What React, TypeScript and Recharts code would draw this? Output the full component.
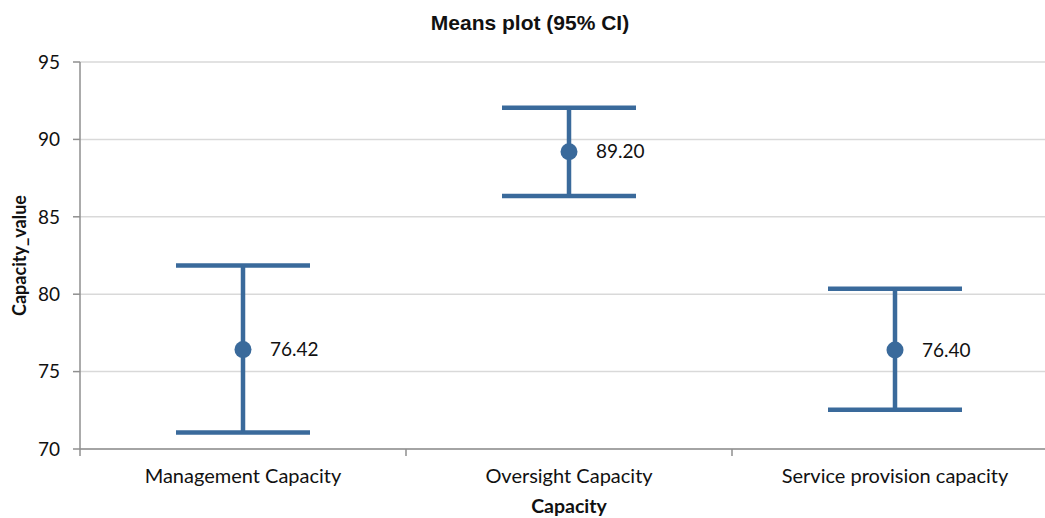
import { ComposedChart, Scatter, XAxis, YAxis, CartesianGrid, ErrorBar } from 'recharts';

const categories = ['Management Capacity', 'Oversight Capacity', 'Service provision capacity'];
const means = [76.42, 89.2, 76.4];
const lower = [71.07, 86.34, 72.54];
const upper = [81.86, 92.05, 80.36];
const yTicks = [70, 75, 80, 85, 90, 95];

const BLUE = '#3a6a9b';
const AXIS = '#8f8f8f';
const FONT = 'Lato, "Open Sans", sans-serif';

const data = categories.map((name, i) => ({
  name,
  mean: means[i],
  err: [means[i] - lower[i], upper[i] - means[i]],
}));

const MeanDot = (props: any) => {
  const { cx, cy, payload } = props;
  if (cx == null || cy == null) return null;
  return (
    <g>
      <circle cx={cx} cy={cy} r={8.5} fill={BLUE} />
      <text x={cx + 27} y={cy} dy="0.35em" fontSize={19} fontFamily={FONT} fill="#111">
        {payload.mean.toFixed(2)}
      </text>
    </g>
  );
};

const CategoryTick = (props: any) => {
  const { x, y, payload } = props;
  const half = payload?.offset ?? 0;
  return (
    <g>
      <line x1={x - half} y1={y} x2={x - half} y2={y + 7} stroke={AXIS} strokeWidth={1.5} />
      <text x={x} y={y + 34} textAnchor="middle" fontSize={20} fontFamily={FONT} fill="#111">
        {payload.value}
      </text>
    </g>
  );
};

const YTitle = (props: any) => {
  const vb = props.viewBox || {};
  const cx = 20;
  const cy = vb.y + vb.height / 2;
  return (
    <text
      x={cx}
      y={cy}
      transform={`rotate(-90 ${cx} ${cy})`}
      textAnchor="middle"
      dy="0.35em"
      fontSize={18}
      fontWeight="bold"
      fontFamily={FONT}
      fill="#111"
    >
      Capacity_value
    </text>
  );
};

export default function App() {
  return (
    <div style={{ position: 'fixed', left: 0, top: 0, width: 1045, height: 518, overflow: 'hidden', background: '#fff' }}>
      <div
        style={{
          position: 'absolute',
          left: 0,
          top: 12,
          width: 1060,
          textAlign: 'center',
          fontFamily: '"Liberation Sans", Arial, sans-serif',
          fontWeight: 'bold',
          fontSize: 21,
          lineHeight: '21px',
          color: '#111',
        }}
      >
        Means plot (95% CI)
      </div>
      <ComposedChart width={1060} height={518} data={data} margin={{ top: 62, right: 2, bottom: 0, left: 0 }}>
        <CartesianGrid vertical={false} stroke="#d9d9d9" strokeWidth={1.5} />
        <XAxis
          dataKey="name"
          type="category"
          scale="band"
          height={69}
          axisLine={{ stroke: AXIS, strokeWidth: 1.5 }}
          tickLine={false}
          tickSize={0}
          tickMargin={0}
          tick={<CategoryTick />}
          interval={0}
          label={{
            value: 'Capacity',
            position: 'insideBottom',
            offset: 5,
            fontSize: 19.5,
            fontWeight: 'bold',
            fontFamily: FONT,
            fill: '#111',
          }}
        />
        <YAxis
          type="number"
          domain={[70, 95]}
          ticks={yTicks}
          width={80}
          axisLine={{ stroke: AXIS, strokeWidth: 1.5 }}
          tickLine={{ stroke: AXIS, strokeWidth: 1.5 }}
          tickSize={7}
          tickMargin={13}
          tick={{ fontSize: 19, fontFamily: FONT, fill: '#111' }}
          label={{ content: <YTitle /> }}
        />
        <Scatter dataKey="mean" fill={BLUE} shape={<MeanDot />} isAnimationActive={false}>
          <ErrorBar dataKey="err" direction="y" width={67} stroke={BLUE} strokeWidth={4.5} isAnimationActive={false} />
        </Scatter>
      </ComposedChart>
    </div>
  );
}
